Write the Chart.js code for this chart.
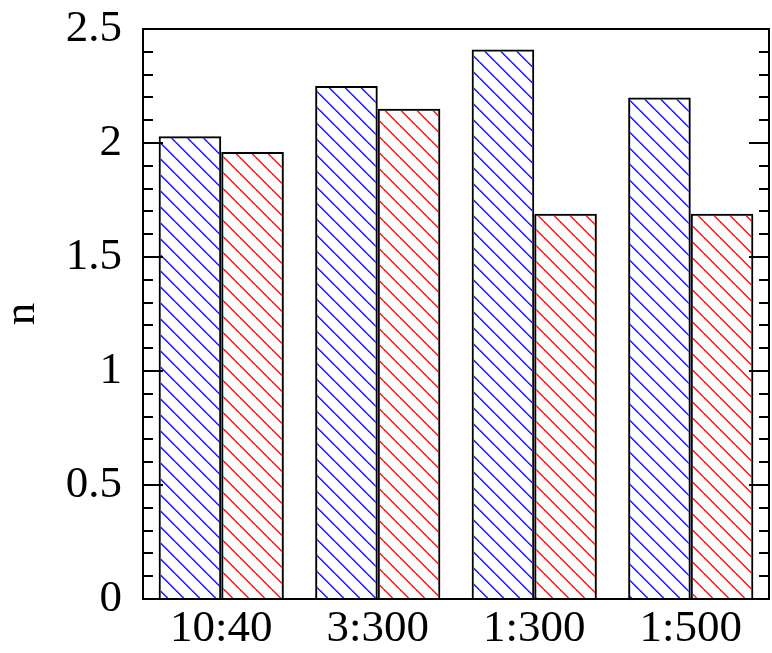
<!DOCTYPE html>
<html>
<head>
<meta charset="utf-8">
<script src="https://cdn.jsdelivr.net/npm/chart.js@4.4.0/dist/chart.umd.min.js"></script>
<style>
  html, body { margin: 0; padding: 0; background: #fff; }
  #wrap { width: 772px; height: 653px; }
</style>
</head>
<body>
<div id="wrap"><canvas id="chart" width="772" height="653"></canvas></div>
<script>
const categories = ['10:40', '3:300', '1:300', '1:500'];
const seriesA = [2.03, 2.25, 2.41, 2.20];
const seriesB = [1.96, 2.15, 1.69, 1.69];
const yTicks = [0, 0.5, 1, 1.5, 2, 2.5];
const yTickLabels = ['0', '0.5', '1', '1.5', '2', '2.5'];
const yMinorTicks = [];
for (let i = 0; i <= 25; i++) if (i % 5) yMinorTicks.push(i / 10);

const FONT = '"Liberation Serif", "Times New Roman", serif';

// diagonal "\" hatching, one line per tile
function hatch(color, shift){
  const size = 16;
  const c = document.createElement('canvas');
  c.width = size; c.height = size;
  const g = c.getContext('2d');
  g.strokeStyle = color;
  g.lineWidth = 1.4;
  for (const o of [-size, 0, size]) {
    g.beginPath();
    g.moveTo(shift + o - 2, -2);
    g.lineTo(shift + o + size + 2, size + 2);
    g.stroke();
  }
  return g.createPattern(c, 'repeat');
}

// frame plus inward ticks on left and right
const frame = {
  id: 'frame',
  afterDatasetsDraw(chart){
    const {ctx, chartArea: a, scales: {y}} = chart;
    ctx.save();
    ctx.strokeStyle = '#000';
    ctx.lineWidth = 2;
    ctx.beginPath();
    const tick = (v, len) => {
      const py = Math.round(y.getPixelForValue(v));
      ctx.moveTo(a.left, py); ctx.lineTo(a.left + len, py);
      ctx.moveTo(a.right, py); ctx.lineTo(a.right - len, py);
    };
    yTicks.forEach(v => tick(v, 20));
    yMinorTicks.forEach(v => tick(v, 10));
    ctx.stroke();
    ctx.strokeRect(a.left, a.top, a.right - a.left, a.bottom - a.top);
    ctx.restore();
  }
};

new Chart(document.getElementById('chart'), {
  type: 'bar',
  data: {
    labels: categories,
    datasets: [
      { data: seriesA, backgroundColor: hatch('#1010ff', 1.5), borderColor: '#000', borderWidth: 2,
        categoryPercentage: 0.8, barPercentage: 1.0 },
      { data: seriesB, backgroundColor: hatch('#ff1010', 2.5), borderColor: '#000', borderWidth: 2,
        categoryPercentage: 0.8, barPercentage: 1.0 }
    ]
  },
  options: {
    responsive: false,
    animation: false,
    devicePixelRatio: 1,
    layout: { padding: { top: 29, right: 3, left: 0, bottom: 0 } },
    plugins: { legend: { display: false }, tooltip: { enabled: false } },
    scales: {
      x: {
        grid: { display: false, drawTicks: false },
        border: { display: false },
        ticks: { color: '#000', padding: 3, font: { family: FONT, size: 45 }, maxRotation: 0 },
        afterFit: s => { s.height = 54; s.paddingLeft = 0; s.paddingRight = 0; }
      },
      y: {
        min: 0, max: 2.5,
        grid: { display: false, drawTicks: false },
        border: { display: false },
        afterBuildTicks: s => { s.ticks = yTicks.map(v => ({ value: v })); },
        ticks: {
          color: '#000', padding: 21, font: { family: FONT, size: 45 },
          callback: (v) => yTickLabels[yTicks.indexOf(v)]
        },
        title: { display: true, text: 'n', color: '#000', padding: 0,
                 font: { family: FONT, size: 45, lineHeight: 1 } },
        afterFit: s => { s.width = 143; s.paddingTop = 0; s.paddingBottom = 0; }
      }
    }
  },
  plugins: [frame]
});
</script>
</body>
</html>
